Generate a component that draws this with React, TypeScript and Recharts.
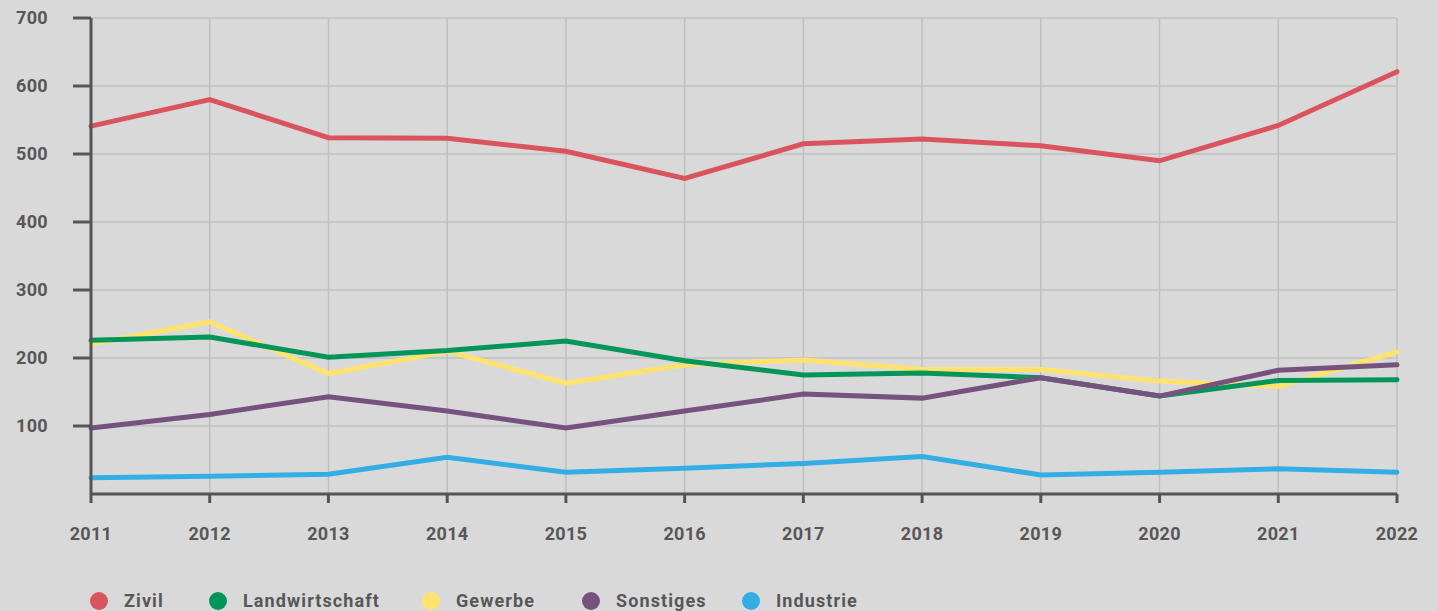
import React from 'react';
import { LineChart, Line, XAxis, YAxis, CartesianGrid, Legend } from 'recharts';

const years = ['2011', '2012', '2013', '2014', '2015', '2016', '2017', '2018', '2019', '2020', '2021', '2022'];
const zivil = [541, 580, 524, 523, 504, 464, 515, 522, 512, 490, 542, 621];
const landwirtschaft = [226, 231, 201, 211, 225, 196, 175, 178, 171, 144, 167, 168];
const gewerbe = [221, 253, 177, 210, 163, 190, 197, 183, 183, 166, 158, 209];
const sonstiges = [97, 117, 143, 122, 97, 122, 147, 141, 171, 144, 182, 190];
const industrie = [24, 26, 29, 54, 32, 38, 45, 55, 28, 32, 37, 32];
const yTicks = [100, 200, 300, 400, 500, 600, 700];

const seriesNames = ['Zivil', 'Landwirtschaft', 'Gewerbe', 'Sonstiges', 'Industrie'];
const seriesColors = ['#d9545e', '#00965a', '#ffe36e', '#76527f', '#33aee5'];

const data = years.map((year, i) => ({
  year,
  Zivil: zivil[i],
  Landwirtschaft: landwirtschaft[i],
  Gewerbe: gewerbe[i],
  Sonstiges: sonstiges[i],
  Industrie: industrie[i],
}));

// draw order so the overlaps look like the original
const drawOrder = ['Gewerbe', 'Landwirtschaft', 'Sonstiges', 'Zivil', 'Industrie'];

// legend item widths (px), taken from the original layout
const legendItemWidths = [119, 213, 160, 160, 160];

const FONT = 'Roboto, "Noto Sans", sans-serif';
const TEXT = '#575757';

const LegendContent = () => (
  <div style={{ height: 40, display: 'flex', alignItems: 'flex-end', paddingLeft: 90, boxSizing: 'border-box' }}>
    {seriesNames.map((name, i) => (
      <div key={name} style={{ display: 'flex', alignItems: 'center', width: legendItemWidths[i], flex: 'none' }}>
        <span style={{ width: 18, height: 18, borderRadius: 9, background: seriesColors[i], display: 'inline-block', flex: 'none' }} />
        <span style={{ marginLeft: 16, fontFamily: FONT, fontWeight: 700, fontSize: 18, color: TEXT, letterSpacing: 1.1, whiteSpace: 'nowrap' }}>{name}</span>
      </div>
    ))}
  </div>
);

const App: React.FC = () => {
  const tickStyle = { fill: TEXT, fontSize: 18, fontWeight: 700, fontFamily: FONT, letterSpacing: 0.3 };
  return (
    <div style={{ position: 'absolute', left: 0, top: 0, width: 1438, height: 611, background: '#d9d9d9' }}>
      <LineChart width={1438} height={611} data={data} margin={{ top: 18, right: 41, bottom: 0, left: 0 }}>
        <CartesianGrid stroke="#bfbfbf" strokeWidth={1.5} />
        <XAxis
          dataKey="year"
          scale="point"
          height={77}
          tickSize={9}
          tickMargin={24}
          axisLine={{ stroke: '#555555', strokeWidth: 3 }}
          tickLine={{ stroke: '#555555', strokeWidth: 3 }}
          tick={tickStyle}
          interval={0}
        />
        <YAxis
          width={91}
          domain={[0, 700]}
          ticks={yTicks}
          tickSize={18}
          tickMargin={25}
          axisLine={{ stroke: '#555555', strokeWidth: 3 }}
          tickLine={{ stroke: '#555555', strokeWidth: 3 }}
          tick={tickStyle}
        />
        <Legend verticalAlign="bottom" align="left" content={<LegendContent />} />
        {drawOrder.map((name) => (
          <Line
            key={name}
            type="linear"
            dataKey={name}
            stroke={seriesColors[seriesNames.indexOf(name)]}
            strokeWidth={5}
            strokeLinecap="round"
            dot={false}
            activeDot={false}
            isAnimationActive={false}
          />
        ))}
      </LineChart>
    </div>
  );
};

export default App;
